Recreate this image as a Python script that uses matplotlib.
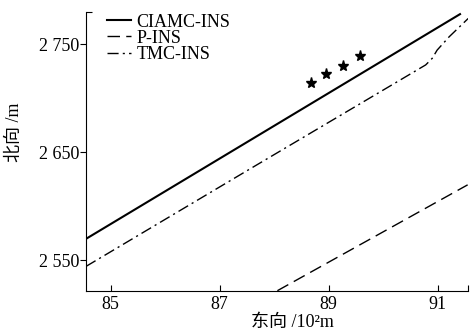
import numpy as np
import matplotlib
matplotlib.use('Agg')
import matplotlib.pyplot as plt
from matplotlib.ticker import FuncFormatter

plt.rcParams['font.family'] = ['Liberation Serif', 'Noto Sans CJK SC']
plt.rcParams['font.size'] = 13

# data
ciamc_x = [84.55, 91.41]
ciamc_y = [2570.0, 2778.0]
pins_x = [88.06, 91.55]
pins_y = [2522.0, 2620.0]
tmc_x = [84.55, 87.6, 90.78, 90.81, 90.90, 90.99, 91.21, 91.56]
tmc_y = [2544.5, 2636.0, 2731.0, 2732.5, 2737.1, 2744.7, 2757.0, 2774.0]
star_x = [88.675, 88.95, 89.26, 89.57]
star_y = [2714.0, 2722.3, 2730.2, 2739.2]

xticks = [85, 87, 89, 91]
yticks = [2550, 2650, 2750]
xlim = (84.55, 91.55)
ylim = (2522.0, 2780.0)

fig = plt.figure(figsize=(4.7, 3.33), dpi=100)
ax = fig.add_axes([0.183, 0.127, 0.812, 0.837])

ax.plot(ciamc_x, ciamc_y, color='black', lw=1.5, label='CIAMC-INS')
ax.plot(pins_x, pins_y, color='black', lw=1.0, dashes=(9, 4.5), label='P-INS')
ax.plot(tmc_x, tmc_y, color='black', lw=1.0, dashes=(8, 3, 1.5, 3), label='TMC-INS')
ax.plot(star_x, star_y, linestyle='none', marker='*', color='black', ms=8)

ax.set_xlim(*xlim)
ax.set_ylim(*ylim)
ax.set_xticks(xticks)
ax.set_yticks(yticks)
ax.yaxis.set_major_formatter(FuncFormatter(lambda v, p: '{:,}'.format(int(v)).replace(',', ' ')))

# little end caps on the axes
ax.set_xticks([xlim[1]], minor=True)
ax.set_yticks([ylim[1]], minor=True)
ax.tick_params(axis='x', which='both', direction='in', length=4, width=0.8, pad=4)
ax.tick_params(axis='y', which='major', direction='out', length=4, width=0.8, pad=1)
ax.tick_params(axis='y', which='minor', direction='in', length=4, width=0.8)

for s in ['top', 'right']:
    ax.spines[s].set_visible(False)
for s in ['left', 'bottom']:
    ax.spines[s].set_linewidth(0.8)

ax.set_xlabel('东向 /10²m', labelpad=0)
ax.xaxis.set_label_coords(0.54, -0.085)
ax.set_ylabel('北向 /m', labelpad=2)
ax.yaxis.set_label_coords(-0.165, 0.57)

ax.legend(loc='upper left', bbox_to_anchor=(0.037, 1.02), frameon=False,
          handlelength=1.3, handletextpad=0.3, labelspacing=-0.05,
          borderaxespad=0.0, fontsize=13)

fig.savefig('out.png', dpi=100)
